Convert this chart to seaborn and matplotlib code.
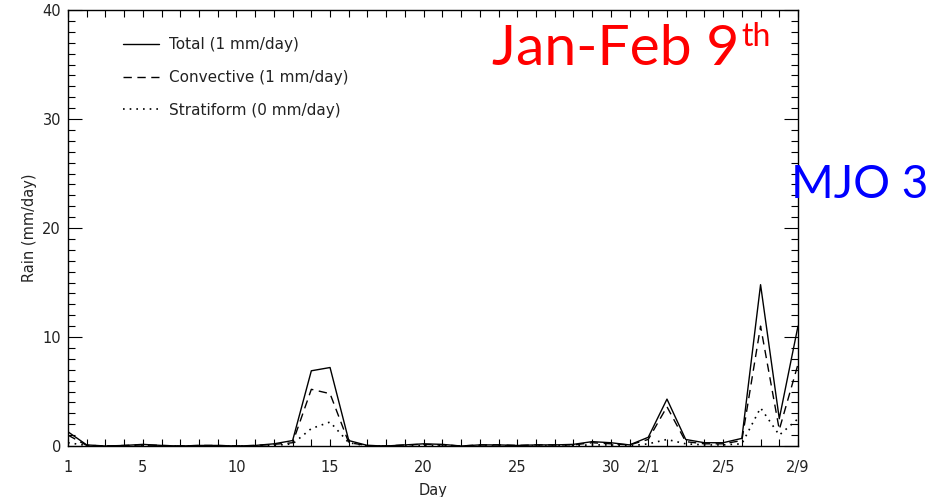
import numpy as np
import pandas as pd
import matplotlib
matplotlib.use("Agg")
import matplotlib.pyplot as plt
import seaborn as sns
from matplotlib.ticker import MultipleLocator, FixedLocator

days = list(range(1, 41))
total = [1.3, 0.1, 0.0, 0.05, 0.15, 0.05, 0.0, 0.05, 0.05, 0.0,
         0.05, 0.2, 0.5, 6.9, 7.2, 0.5, 0.05, 0.0, 0.1, 0.2,
         0.15, 0.0, 0.1, 0.1, 0.05, 0.1, 0.1, 0.15, 0.4, 0.3,
         0.1, 0.8, 4.3, 0.6, 0.3, 0.3, 0.7, 14.8, 2.5, 11.0]
convective = [1.0, 0.05, 0.0, 0.05, 0.1, 0.05, 0.0, 0.05, 0.05, 0.0,
              0.05, 0.15, 0.3, 5.2, 4.8, 0.3, 0.05, 0.0, 0.1, 0.15,
              0.1, 0.0, 0.1, 0.1, 0.05, 0.1, 0.1, 0.1, 0.3, 0.2,
              0.1, 0.6, 3.6, 0.4, 0.2, 0.2, 0.5, 11.0, 1.5, 7.5]
stratiform = [0.3, 0.05, 0.0, 0.0, 0.05, 0.0, 0.0, 0.0, 0.0, 0.0,
              0.0, 0.05, 0.2, 1.6, 2.2, 0.3, 0.0, 0.0, 0.0, 0.05,
              0.05, 0.0, 0.0, 0.0, 0.0, 0.0, 0.0, 0.05, 0.1, 0.1,
              0.0, 0.2, 0.6, 0.2, 0.1, 0.1, 0.2, 3.5, 1.0, 2.5]
labels = ["Total (1 mm/day)", "Convective (1 mm/day)", "Stratiform (0 mm/day)"]
xtick_pos = [1, 5, 10, 15, 20, 25, 30, 32, 36, 40]
xtick_labels = ["1", "5", "10", "15", "20", "25", "30", "2/1", "2/5", "2/9"]

sns.set_style("ticks")
plt.rcParams['font.family'] = ['DejaVu Sans']

fig = plt.figure(figsize=(9.33, 4.97), dpi=100)
ax = fig.add_axes([68/933, 1-446/497, 730/933, 436/497])

df = pd.DataFrame({"day": days, "total": total, "conv": convective, "strat": stratiform})
sns.lineplot(data=df, x="day", y="total", ax=ax, color="black", lw=1.0, linestyle="-", label=labels[0])
sns.lineplot(data=df, x="day", y="conv", ax=ax, color="black", lw=1.0, linestyle=(0, (6, 4)), label=labels[1])
sns.lineplot(data=df, x="day", y="strat", ax=ax, color="black", lw=1.2, linestyle=(0, (1, 3)), label=labels[2])

ax.set_xlim(1, 40)
ax.set_ylim(0, 40)
ax.xaxis.set_major_locator(FixedLocator(xtick_pos))
ax.set_xticklabels(xtick_labels)
ax.xaxis.set_minor_locator(MultipleLocator(1))
ax.yaxis.set_major_locator(MultipleLocator(10))
ax.yaxis.set_minor_locator(MultipleLocator(1))
ax.tick_params(axis="both", which="both", direction="in", top=True, right=True,
               colors="black", labelcolor="#222222", labelsize=10.5)
ax.tick_params(axis="x", which="major", length=5, width=0.8, pad=10)
ax.tick_params(axis="x", which="minor", length=5, width=0.8)
ax.tick_params(axis="y", which="major", length=10, width=0.8, pad=5)
ax.tick_params(axis="y", which="minor", length=5, width=0.8)
for s in ax.spines.values():
    s.set_color("black")
    s.set_linewidth(1.0)

ax.set_xlabel("Day", fontsize=10.5, color="#222222", labelpad=6)
ax.set_ylabel("Rain (mm/day)", fontsize=10.5, color="#222222", labelpad=4)

leg = ax.legend(loc="upper left", bbox_to_anchor=(0.075, 0.937), frameon=False,
                fontsize=11, handlelength=2.4, handletextpad=0.65,
                labelspacing=1.15, borderaxespad=0, borderpad=0)
for t in leg.get_texts():
    t.set_color("#222222")

t1 = fig.text(492/933, 1-65/497, "Jan-Feb 9", color="red",
              fontsize=41, family="Lato", ha="left", va="baseline")
fig.canvas.draw()
bb = t1.get_window_extent(renderer=fig.canvas.get_renderer())
fig.text(bb.x1/933 + 2/933, 1-46/497, "th", color="red",
         fontsize=23, family="Lato", ha="left", va="baseline")
fig.text(791/933, 1-198/497, "MJO 3", color="blue", fontsize=33,
         family="Lato", ha="left", va="baseline")

fig.savefig("out.png", dpi=100)
